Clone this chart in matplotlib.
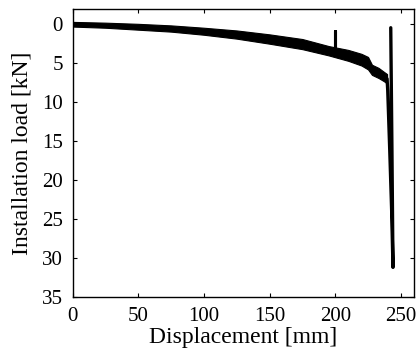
import matplotlib
matplotlib.use("Agg")
import matplotlib.pyplot as plt

plt.rcParams['font.family'] = ['Liberation Serif', 'DejaVu Serif']

# Penetration phase: noisy load band (lower / upper envelope), kN
disp_band = [0, 25, 50, 75, 100, 125, 150, 175, 195, 210, 220, 225, 228, 233, 237, 239.5]
load_band_low = [-0.3, -0.2, -0.05, 0.15, 0.45, 0.8, 1.3, 1.9, 2.8, 3.3, 3.8, 4.2, 5.2, 5.6, 6.1, 6.4]
load_band_high = [0.3, 0.45, 0.7, 0.95, 1.35, 1.85, 2.5, 3.2, 4.0, 4.7, 5.3, 5.8, 6.5, 6.9, 7.3, 7.6]

# Short unloading spike near 200 mm
disp_spike = [199.5, 199.5, 199.5]
load_spike = [3.6, 0.86, 3.6]

# Final loading to peak and release
disp_tail = [239.5, 240.0, 240.5, 241.5, 243.0, 244.0, 243.2, 242.3]
load_tail = [7.0, 8.5, 11.0, 16.0, 24.0, 31.2, 16.0, 0.45]

fig = plt.figure(figsize=(4.17, 3.6), dpi=100)
ax = fig.add_axes([0.1739, 0.175, 0.8189, 0.801])

ax.fill_between(disp_band, load_band_low, load_band_high, color='black', lw=0.8, edgecolor='black')
ax.plot(disp_spike, load_spike, color='black', lw=2.2, solid_capstyle='round')
ax.plot(disp_tail, load_tail, color='black', lw=2.4, solid_capstyle='round', solid_joinstyle='round')

ax.set_xlim(0, 260)
ax.set_ylim(35, -2)
ax.set_xticks([0, 50, 100, 150, 200, 250])
ax.set_yticks([0, 5, 10, 15, 20, 25, 30, 35])
ax.tick_params(direction='in', top=True, right=True, length=3, width=0.8, labelsize=15)
ax.tick_params(axis='x', pad=7)
ax.tick_params(axis='y', pad=7)
for s in ax.spines.values():
    s.set_linewidth(1.0)

ax.set_xlabel('Displacement [mm]', fontsize=17, labelpad=1)
ax.set_ylabel('Installation load [kN]', fontsize=17, labelpad=7)

fig.savefig('out.png', dpi=100)
